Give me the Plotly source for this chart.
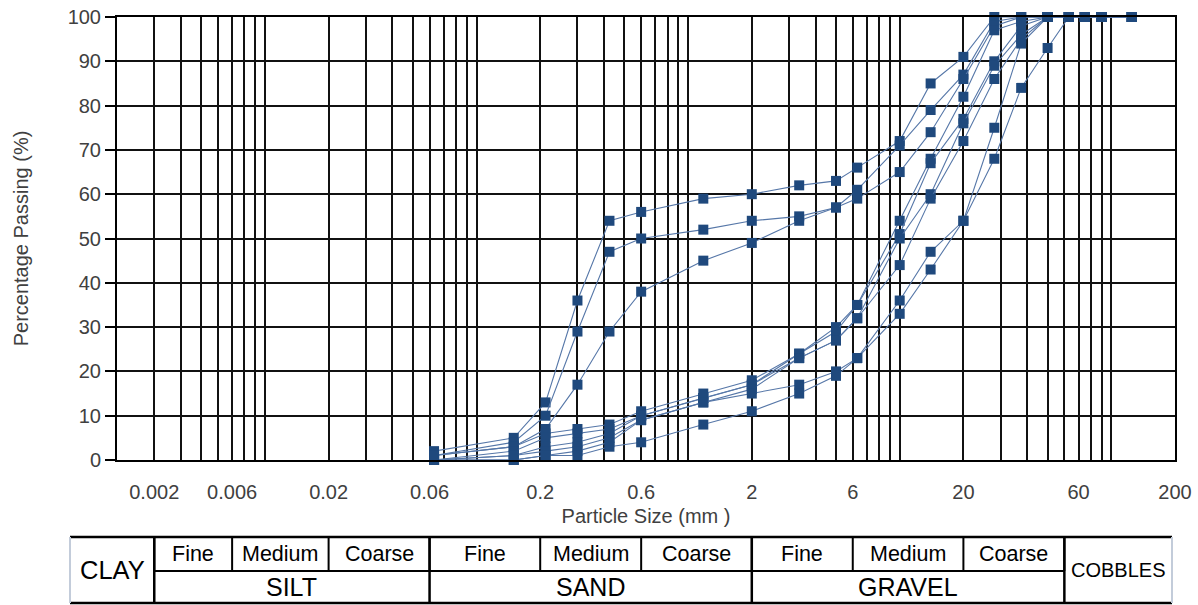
import math
import plotly.graph_objects as go

# ---------------- data ----------------
sieve_mm = [0.063, 0.15, 0.212, 0.3, 0.425, 0.6, 1.18, 2, 3.35, 5, 6.3, 10, 14, 20,
            28, 37.5, 50, 63, 75, 90, 125]

sample_a = [2, 5, 13, 36, 54, 56, 59, 60, 62, 63, 66, 72, 85, 91, 100, 100, 100, 100, 100, 100, 100]
sample_b = [1, 4, 10, 29, 47, 50, 52, 54, 55, 57, 61, 71, 79, 87, 99, 100, 100, 100, 100, 100, 100]
sample_c = [1, 3, 7, 17, 29, 38, 45, 49, 54, 57, 59, 65, 74, 86, 98, 100, 100, 100, 100, 100, 100]
sample_d = [1, 3, 6, 7, 8, 11, 15, 18, 24, 30, 35, 54, 68, 82, 97, 99, 100, 100, 100, 100, 100]
sample_e = [0, 2, 5, 6, 7, 10, 14, 17, 24, 29, 35, 51, 67, 77, 90, 98, 100, 100, 100, 100, 100]
sample_f = [0, 1, 3, 4, 6, 10, 14, 17, 23, 27, 32, 50, 60, 76, 89, 96, 100, 100, 100, 100, 100]
sample_g = [0, 1, 2, 3, 5, 9, 13, 16, 23, 27, 32, 44, 59, 72, 86, 95, 100, 100, 100, 100, 100]
sample_h = [0, 0, 1, 2, 4, 9, 13, 15, 17, 20, 23, 36, 47, 54, 75, 94, 100, 100, 100, 100, 100]
sample_i = [0, 0, 1, 1, 3, 4, 8, 11, 15, 19, 23, 33, 43, 54, 68, 84, 93, 100, 100, 100, 100]

samples = [sample_a, sample_b, sample_c, sample_d, sample_e, sample_f, sample_g, sample_h, sample_i]

# tick labels and the positions (mm) at which they are drawn in the reference
tick_pos_mm = [0.003, 0.007, 0.02, 0.06, 0.2, 0.6, 2, 6, 20, 70, 200]
tick_text = ["0.002", "0.006", "0.02", "0.06", "0.2", "0.6", "2", "6", "20", "60", "200"]

y_ticks = [0, 10, 20, 30, 40, 50, 60, 70, 80, 90, 100]

# classification table: boundaries (mm, as drawn) and labels
sub_bounds_mm = [0.003, 0.007, 0.02, 0.06, 0.2, 0.6, 2, 6, 20, 60]
sub_labels = ["Fine", "Medium", "Coarse", "Fine", "Medium", "Coarse", "Fine", "Medium", "Coarse"]
main_bounds_mm = [0.003, 0.06, 2, 60]
main_labels = ["SILT", "SAND", "GRAVEL"]

X_MIN, X_MAX = 0.002, 200

# ---------------- figure ----------------
MARKER = "#1F497D"
LINE = "#5677A8"

fig = go.Figure()
for s in samples:
    fig.add_trace(go.Scatter(
        x=sieve_mm, y=s, mode="lines+markers",
        line=dict(color=LINE, width=1.1),
        marker=dict(symbol="square", size=10, color=MARKER),
        showlegend=False, cliponaxis=False,
    ))

# grid positions on the log axis (1..9 x 10^n)
grid_vals = []
for n in range(-3, 3):
    for k in range(1, 10):
        v = k * 10 ** n
        if X_MIN < v < X_MAX * 0.999:
            grid_vals.append(v)

W, H = 1198, 605
ML, MT = 117, 17
MR = W - 1175
MB = H - 460
plot_h = H - MT - MB
plot_w = W - ML - MR


def py(pix):
    # page pixel -> paper y
    return ((H - MB) - pix) / plot_h


def px(pix):
    # page pixel -> paper x
    return (pix - ML) / plot_w


FONT = "Liberation Sans, Arial, sans-serif"
GREY = "#404040"

fig.update_layout(
    width=W, height=H,
    margin=dict(l=ML, r=MR, t=MT, b=MB, autoexpand=False),
    paper_bgcolor="white", plot_bgcolor="white",
    font=dict(family=FONT, size=20, color=GREY),
    xaxis=dict(
        type="log", automargin=False, ticklabeloverflow="allow",
        range=[math.log10(X_MIN), math.log10(X_MAX)],
        tickmode="array", tickvals=tick_pos_mm, ticktext=tick_text,
        showgrid=False, ticks="", ticklabelstandoff=13,
        tickfont=dict(size=20, color=GREY),
        minor=dict(tickmode="array", tickvals=grid_vals, showgrid=True,
                   gridcolor="#111111", gridwidth=2, ticks=""),
        showline=True, linecolor="black", linewidth=2, mirror=True,
        title=dict(text="Particle Size (mm )", font=dict(size=20, color=GREY), standoff=7),
        zeroline=False,
    ),
    yaxis=dict(
        automargin=False, ticklabeloverflow="allow",
        range=[0, 100], tickmode="array", tickvals=y_ticks,
        showgrid=True, gridcolor="#111111", gridwidth=2,
        ticks="outside", ticklen=10, tickwidth=2, tickcolor="black",
        tickfont=dict(size=20, color=GREY),
        showline=True, linecolor="black", linewidth=2, mirror=True,
        title=dict(text="Percentage Passing (%)", font=dict(size=20, color=GREY), standoff=34),
        zeroline=False,
    ),
)

# ---------------- classification table ----------------
T_TOP, T_MID, T_BOT = py(537), py(571), py(603)
T_LEFT, T_RIGHT = px(70), px(1172)
BLK = dict(color="black", width=2.5)
EDGE = dict(color="#C3CCDA", width=2)

shapes = []
shapes.append(dict(type="line", xref="paper", yref="paper", x0=T_LEFT, x1=T_RIGHT, y0=T_TOP, y1=T_TOP, line=BLK))
shapes.append(dict(type="line", xref="paper", yref="paper", x0=T_LEFT, x1=T_RIGHT, y0=T_BOT, y1=T_BOT, line=BLK))
shapes.append(dict(type="line", xref="paper", yref="paper", x0=T_LEFT, x1=T_LEFT, y0=T_TOP, y1=T_BOT, line=EDGE))
shapes.append(dict(type="line", xref="paper", yref="paper", x0=T_RIGHT, x1=T_RIGHT, y0=T_TOP, y1=T_BOT, line=EDGE))
shapes.append(dict(type="line", xref="x", yref="paper", x0=sub_bounds_mm[0], x1=sub_bounds_mm[-1],
                   y0=T_MID, y1=T_MID, line=dict(color="black", width=2)))
for b in sub_bounds_mm:
    shapes.append(dict(type="line", xref="x", yref="paper", x0=b, x1=b, y0=T_MID, y1=T_TOP,
                       line=dict(color="black", width=2)))
for b in main_bounds_mm:
    shapes.append(dict(type="line", xref="x", yref="paper", x0=b, x1=b, y0=T_BOT, y1=T_TOP, line=BLK))

annotations = []
for i, lab in enumerate(sub_labels):
    cx = (math.log10(sub_bounds_mm[i]) + math.log10(sub_bounds_mm[i + 1])) / 2
    annotations.append(dict(text=lab, x=cx, xref="x", y=(T_TOP + T_MID) / 2, yref="paper",
                            xanchor="center", yanchor="middle",
                            showarrow=False, font=dict(size=21.5, color="black")))
for i, lab in enumerate(main_labels):
    cx = (math.log10(main_bounds_mm[i]) + math.log10(main_bounds_mm[i + 1])) / 2
    annotations.append(dict(text=lab, x=cx, xref="x", y=(T_MID + T_BOT) / 2, yref="paper",
                            xanchor="center", yanchor="middle",
                            showarrow=False, font=dict(size=25, color="black")))
annotations.append(dict(text="CLAY", x=(T_LEFT + px(154)) / 2, xref="paper", y=(T_TOP + T_BOT) / 2,
                        yref="paper", xanchor="center", yanchor="middle",
                        showarrow=False, font=dict(size=25.5, color="black")))
annotations.append(dict(text="COBBLES", x=(px(1064) + T_RIGHT) / 2, xref="paper", y=(T_TOP + T_BOT) / 2,
                        yref="paper", xanchor="center", yanchor="middle",
                        showarrow=False, font=dict(size=20, color="black")))

fig.update_layout(shapes=shapes, annotations=annotations)

fig.write_html("out.html", config={"displayModeBar": False},
               post_script="document.body.style.margin='0';")
